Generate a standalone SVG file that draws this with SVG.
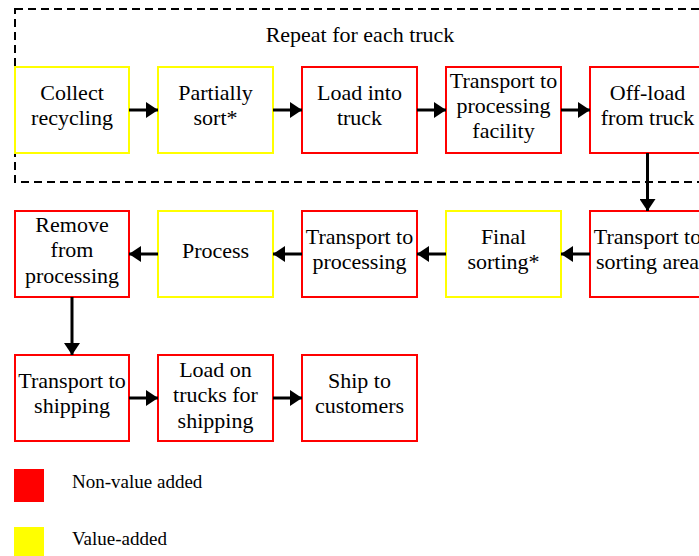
<svg xmlns="http://www.w3.org/2000/svg" width="699" height="556" viewBox="0 0 699 556">
  <style>
    .box { fill: #fff; stroke-width: 2; }
    .nva { stroke: #ff0000; }
    .va { stroke: #ffff00; }
    text { font-family: "Liberation Serif", "Times New Roman", serif; fill: #000; }
    .lbl { font-size: 22px; text-anchor: middle; }
    .leg { font-size: 19px; }
    .conn { stroke: #000; stroke-width: 3; fill: none; marker-end: url(#head); }
  </style>
  <defs>
    <marker id="head" viewBox="0 0 12 16" refX="12" refY="8" markerWidth="12" markerHeight="16" markerUnits="userSpaceOnUse" orient="auto">
      <path d="M0,0 L12,8 L0,16 Z" fill="#000"/>
    </marker>
  </defs>
  <rect width="699" height="556" fill="#fff"/>

  <!-- repeat loop frame -->
  <g id="loop">
    <rect x="15" y="9" width="720" height="173" fill="none" stroke="#000" stroke-width="2" stroke-dasharray="8,5"/>
    <text class="lbl" x="360" y="42">Repeat for each truck</text>
  </g>

  <!-- row 1 -->
  <g id="collect">
    <rect class="box va" x="15" y="67" width="114" height="86"/>
    <text class="lbl" x="72" y="100">Collect</text>
    <text class="lbl" x="72" y="125">recycling</text>
  </g>
  <g id="partial-sort">
    <rect class="box va" x="158" y="67" width="115" height="86"/>
    <text class="lbl" x="215.5" y="100">Partially</text>
    <text class="lbl" x="215.5" y="125">sort*</text>
  </g>
  <g id="load-truck">
    <rect class="box nva" x="302" y="67" width="115" height="86"/>
    <text class="lbl" x="359.5" y="100">Load into</text>
    <text class="lbl" x="359.5" y="125">truck</text>
  </g>
  <g id="transport-facility">
    <rect class="box nva" x="446" y="67" width="115" height="86"/>
    <text class="lbl" x="503.5" y="88">Transport to</text>
    <text class="lbl" x="503.5" y="113">processing</text>
    <text class="lbl" x="503.5" y="138">facility</text>
  </g>
  <g id="offload">
    <rect class="box nva" x="590" y="67" width="115" height="86"/>
    <text class="lbl" x="647.5" y="100">Off-load</text>
    <text class="lbl" x="647.5" y="125">from truck</text>
  </g>

  <!-- row 2 -->
  <g id="transport-sorting">
    <rect class="box nva" x="590" y="211" width="115" height="86"/>
    <text class="lbl" x="647.5" y="244">Transport to</text>
    <text class="lbl" x="647.5" y="269">sorting area</text>
  </g>
  <g id="final-sort">
    <rect class="box va" x="446" y="211" width="115" height="86"/>
    <text class="lbl" x="503.5" y="244">Final</text>
    <text class="lbl" x="503.5" y="269">sorting*</text>
  </g>
  <g id="transport-processing">
    <rect class="box nva" x="302" y="211" width="115" height="86"/>
    <text class="lbl" x="359.5" y="244">Transport to</text>
    <text class="lbl" x="359.5" y="269">processing</text>
  </g>
  <g id="process">
    <rect class="box va" x="158" y="211" width="115" height="86"/>
    <text class="lbl" x="215.5" y="258">Process</text>
  </g>
  <g id="remove">
    <rect class="box nva" x="15" y="211" width="114" height="86"/>
    <text class="lbl" x="72" y="232">Remove</text>
    <text class="lbl" x="72" y="257">from</text>
    <text class="lbl" x="72" y="283">processing</text>
  </g>

  <!-- row 3 -->
  <g id="transport-shipping">
    <rect class="box nva" x="15" y="355" width="114" height="86"/>
    <text class="lbl" x="72" y="388">Transport to</text>
    <text class="lbl" x="72" y="413">shipping</text>
  </g>
  <g id="load-shipping">
    <rect class="box nva" x="158" y="355" width="115" height="86"/>
    <text class="lbl" x="215.5" y="377">Load on</text>
    <text class="lbl" x="215.5" y="402">trucks for</text>
    <text class="lbl" x="215.5" y="428">shipping</text>
  </g>
  <g id="ship">
    <rect class="box nva" x="302" y="355" width="115" height="86"/>
    <text class="lbl" x="359.5" y="388">Ship to</text>
    <text class="lbl" x="359.5" y="413">customers</text>
  </g>

  <!-- connectors -->
  <g id="connectors">
    <line class="conn" x1="129" y1="110" x2="158" y2="110"/>
    <line class="conn" x1="273" y1="110" x2="302" y2="110"/>
    <line class="conn" x1="417" y1="110" x2="446" y2="110"/>
    <line class="conn" x1="561" y1="110" x2="590" y2="110"/>
    <line class="conn" x1="647.5" y1="153" x2="647.5" y2="211"/>
    <line class="conn" x1="590" y1="254" x2="561" y2="254"/>
    <line class="conn" x1="446" y1="254" x2="417" y2="254"/>
    <line class="conn" x1="302" y1="254" x2="273" y2="254"/>
    <line class="conn" x1="158" y1="254" x2="129" y2="254"/>
    <line class="conn" x1="72" y1="297" x2="72" y2="355"/>
    <line class="conn" x1="129" y1="398" x2="158" y2="398"/>
    <line class="conn" x1="273" y1="398" x2="302" y2="398"/>
  </g>

  <!-- legend -->
  <g id="legend">
    <rect x="14" y="469" width="30" height="33" fill="#ff0000"/>
    <text class="leg" x="72" y="488">Non-value added</text>
    <rect x="14" y="527" width="30" height="33" fill="#ffff00"/>
    <text class="leg" x="72" y="545">Value-added</text>
  </g>
</svg>
